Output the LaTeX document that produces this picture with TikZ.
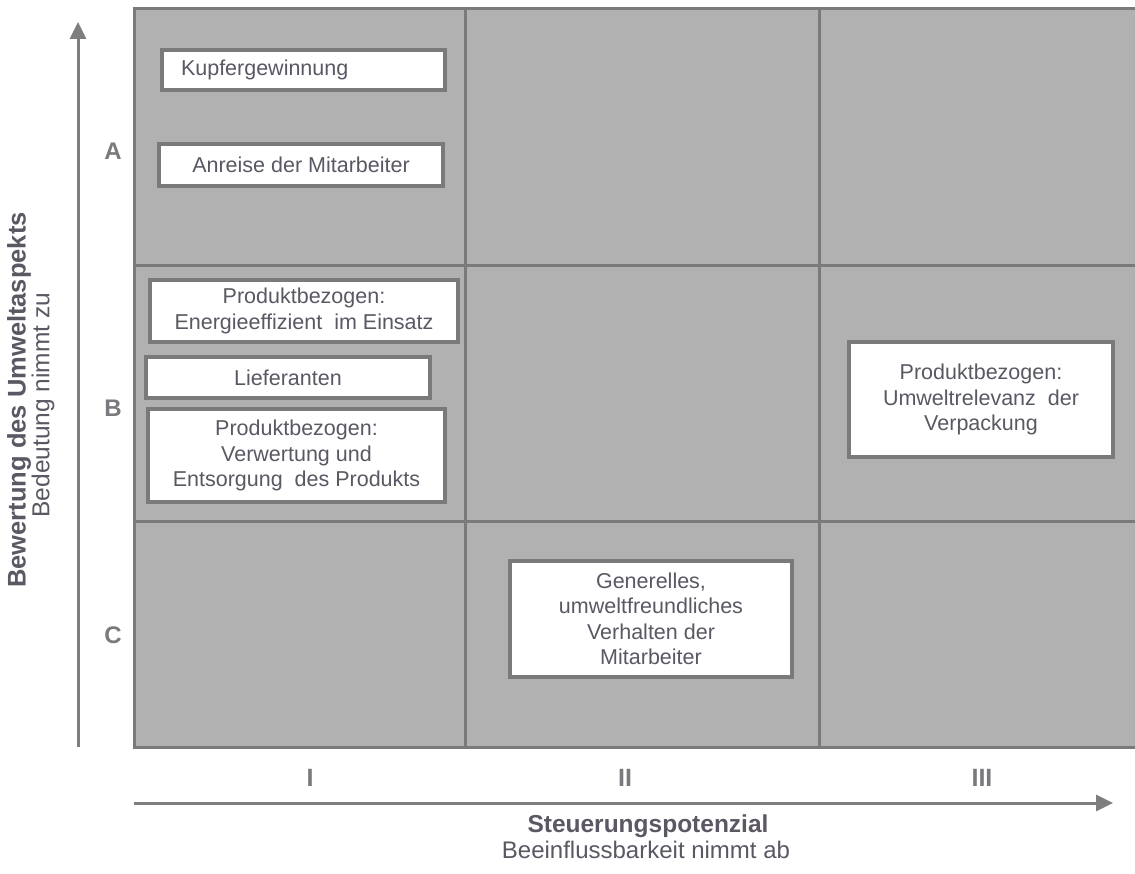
\documentclass[tikz,border=0pt]{standalone}
\usepackage{fontspec}
\setmainfont{Liberation Sans}
\usetikzlibrary{arrows.meta}
\definecolor{cellgray}{HTML}{B1B1B1}
\definecolor{linegray}{HTML}{7A7A7A}
\definecolor{txtgray}{HTML}{5B5763}
\definecolor{lblgray}{HTML}{7A7A7E}
\definecolor{axisgray}{HTML}{7E7E7E}
\tikzset{
  box/.style={draw=linegray, line width=3.5pt, fill=white, text=txtgray,
    font=\fontsize{21.5}{25.5}\selectfont, align=center, inner sep=0pt},
  rowlbl/.style={text=lblgray, font=\bfseries\fontsize{24}{28}\selectfont},
  collbl/.style={text=lblgray, font=\bfseries\fontsize{25}{28}\selectfont},
  axis/.style={draw=axisgray, line width=3pt, -{Triangle[length=17pt,width=16pt]}},
}
\begin{document}
\begin{tikzpicture}[x=1pt,y=-1pt]
\useasboundingbox[fill=white] (0,0) rectangle (1135,874);
\begin{scope}
\clip (0,0) rectangle (1135,874);
\fill[cellgray] (134,9) rectangle (1145,747);
\draw[linegray, line width=3pt] (134,9) rectangle (1145,747);
\draw[linegray, line width=3pt] (465,9) -- (465,747);
\draw[linegray, line width=3pt] (819,9) -- (819,747);
\draw[linegray, line width=3pt] (134,266) -- (1145,266);
\draw[linegray, line width=3pt] (134,521) -- (1145,521);
\end{scope}
% boxes
\node[box, minimum width=283pt, minimum height=40pt, text width=245pt, align=left] (kupfer) at (303.5,70) {Kupfergewinnung};
\node[box, minimum width=284pt, minimum height=42pt] (anreise) at (301,165) {Anreise der Mitarbeiter};
\node[box, minimum width=308pt, minimum height=62pt] (energie) at (304,311) {Produktbezogen:\\Energieeffizient\ \ im Einsatz};
\node[box, minimum width=284pt, minimum height=41pt] (liefer) at (288,377.5) {Lieferanten};
\node[box, minimum width=297pt, minimum height=93pt] (verwert) at (296.5,455.5) {Produktbezogen:\\Verwertung und\\Entsorgung\ \ des Produkts};
\node[box, minimum width=264pt, minimum height=115pt] (verpack) at (981,399.5) {Produktbezogen:\\Umweltrelevanz\ \ der\\Verpackung};
\node[box, minimum width=282pt, minimum height=116pt] (generell) at (651,619) {Generelles,\\umweltfreundliches\\Verhalten der\\Mitarbeiter};
% row labels
\node[rowlbl] (rA) at (113,151) {A};
\node[rowlbl] (rB) at (113,408) {B};
\node[rowlbl] (rC) at (113,635) {C};
% column labels
\node[collbl] (cI) at (310,778) {I};
\node[collbl] (cII) at (625,778) {II};
\node[collbl] (cIII) at (982,778) {III};
% axes
\coordinate (ybot) at (78,747);
\coordinate (ytop) at (78,22);
\coordinate (xl) at (134,803);
\coordinate (xr) at (1113,803);
\draw[axis] (ybot) -- (ytop);
\draw[axis] (xl) -- (xr);
% axis titles
\node[rotate=90, text=txtgray, font=\bfseries\fontsize{25.5}{28}\selectfont] (ytitle) at (19,400) {Bewertung des Umweltaspekts};
\node[rotate=90, text=txtgray, font=\fontsize{24.5}{28}\selectfont] (ysub) at (43,405) {Bedeutung nimmt zu};
\node[text=txtgray, font=\bfseries\fontsize{24.5}{28}\selectfont] (xtitle) at (648,826) {Steuerungspotenzial};
\node[text=txtgray, font=\fontsize{24}{28}\selectfont] (xsub) at (646,850) {Beeinflussbarkeit nimmt ab};
\end{tikzpicture}
\end{document}
